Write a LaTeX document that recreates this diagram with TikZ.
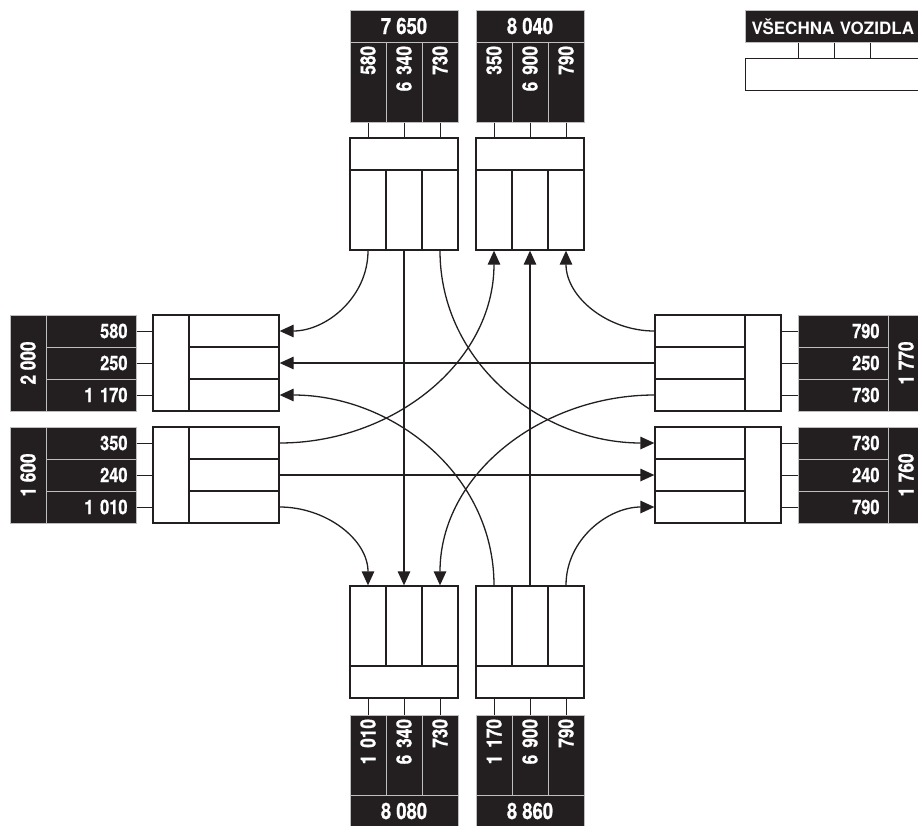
\documentclass[tikz,border=0pt]{standalone}
\usepackage{fontspec}
\newfontfamily\numfont[FakeStretch=0.82, FakeBold=0.8]{TeX Gyre Heros}
\newfontfamily\legfont{TeX Gyre Heros}
\usetikzlibrary{arrows.meta, positioning}
\definecolor{ink}{HTML}{231F20}
\definecolor{rim}{HTML}{BEBEBE}

\tikzset{
  wcell/.style={draw=ink, line width=1.3pt, fill=white, inner sep=0pt},
  wcol/.style={wcell, minimum width=36pt, minimum height=80pt},
  whead/.style={wcell, minimum width=108pt, minimum height=32pt},
  wrow/.style={wcell, minimum width=90pt, minimum height=32pt},
  wside/.style={wcell, minimum width=36pt, minimum height=96pt},
  bcell/.style={fill=ink, draw=rim, line width=1pt, text=white, inner sep=0pt,
    font=\numfont\bfseries\fontsize{21}{23}\selectfont},
  bcol/.style={bcell, rotate=90, minimum width=80pt, minimum height=36pt, text width=72pt, align=right},
  bhead/.style={bcell, minimum width=108pt, minimum height=32pt,
    font=\numfont\bfseries\fontsize{22.5}{24}\selectfont},
  brow/.style={bcell, minimum width=90pt, minimum height=32pt, text width=73pt, align=right,
    font=\numfont\bfseries\fontsize{20}{22}\selectfont},
  bside/.style={bcell, rotate=90, minimum width=96pt, minimum height=36pt},
  stub/.style={draw=ink, line width=1pt},
  flow/.style={draw=ink, line width=1.3pt, -{Triangle[length=14pt,width=12.5pt]}}
}

\begin{document}
\begin{tikzpicture}[x=1pt, y=1pt]
  \useasboundingbox (0,0) rectangle (918,-825);
  \clip (0,0) rectangle (918,-825);

  % North: inbound (left) and outbound (right)
  \node[bhead] (nInB) at (404,-26) {7 650};
  \node[whead] (nInH) at (404,-154) {};
  \foreach \i/\v in {1/580, 2/{6 340}, 3/730} {
    \node[bcol] (nInB\i) at ({332+36*\i},-82) {\v};
    \node[wcol] (nIn\i) at ({332+36*\i},-210) {};
    \draw[stub] (nInB\i.west) -- (nInB\i.west |- nInH.north);
  }
  \node[bhead] (nOutB) at (530,-26) {8 040};
  \node[whead] (nOutH) at (530,-154) {};
  \foreach \i/\v in {1/350, 2/{6 900}, 3/790} {
    \node[bcol] (nOutB\i) at ({458+36*\i},-82) {\v};
    \node[wcol] (nOut\i) at ({458+36*\i},-210) {};
    \draw[stub] (nOutB\i.west) -- (nOutB\i.west |- nOutH.north);
  }

  % South: outbound (left) and inbound (right)
  \node[bhead] (sOutB) at (404,-811) {8 080};
  \node[whead] (sOutH) at (404,-682) {};
  \foreach \i/\v in {1/{1 010}, 2/{6 340}, 3/730} {
    \node[bcol] (sOutB\i) at ({332+36*\i},-755) {\v};
    \node[wcol] (sOut\i) at ({332+36*\i},-626) {};
    \draw[stub] (sOutB\i.east) -- (sOutB\i.east |- sOutH.south);
  }
  \node[bhead] (sInB) at (530,-811) {8 860};
  \node[whead] (sInH) at (530,-682) {};
  \foreach \i/\v in {1/{1 170}, 2/{6 900}, 3/790} {
    \node[bcol] (sInB\i) at ({458+36*\i},-755) {\v};
    \node[wcol] (sIn\i) at ({458+36*\i},-626) {};
    \draw[stub] (sInB\i.east) -- (sInB\i.east |- sInH.south);
  }

  % West: outbound (top) and inbound (bottom)
  \node[bside] (wOutB) at (28,-363) {2 000};
  \node[wside] (wOutS) at (171,-363) {};
  \foreach \i/\v in {1/580, 2/250, 3/{1 170}} {
    \node[brow] (wOutB\i) at (91,{-299-32*\i}) {\v};
    \node[wrow] (wOut\i) at (234,{-299-32*\i}) {};
    \draw[stub] (wOutB\i.east) -- (wOutB\i.east -| wOutS.west);
  }
  \node[bside] (wInB) at (28,-475) {1 600};
  \node[wside] (wInS) at (171,-475) {};
  \foreach \i/\v in {1/350, 2/240, 3/{1 010}} {
    \node[brow] (wInB\i) at (91,{-411-32*\i}) {\v};
    \node[wrow] (wIn\i) at (234,{-411-32*\i}) {};
    \draw[stub] (wInB\i.east) -- (wInB\i.east -| wInS.west);
  }

  % East: inbound (top) and outbound (bottom)
  \node[bside] (eInB) at (906,-363) {1 770};
  \node[wside] (eInS) at (763,-363) {};
  \foreach \i/\v in {1/790, 2/250, 3/730} {
    \node[brow] (eInB\i) at (843,{-299-32*\i}) {\v};
    \node[wrow] (eIn\i) at (700,{-299-32*\i}) {};
    \draw[stub] (eInB\i.west) -- (eInB\i.west -| eInS.east);
  }
  \node[bside] (eOutB) at (906,-475) {1 760};
  \node[wside] (eOutS) at (763,-475) {};
  \foreach \i/\v in {1/730, 2/240, 3/790} {
    \node[brow] (eOutB\i) at (843,{-411-32*\i}) {\v};
    \node[wrow] (eOut\i) at (700,{-411-32*\i}) {};
    \draw[stub] (eOutB\i.west) -- (eOutB\i.west -| eOutS.east);
  }

  % Legend
  \node[bhead, anchor=north west, minimum width=180pt, text width=168pt, align=left, inner xsep=6pt,
    font=\legfont\bfseries\fontsize{17}{19}\selectfont] (legB) at (745,-10) {VŠECHNA VOZIDLA};
  \node[wcell, anchor=north west, minimum width=180pt, minimum height=32pt] (legW) at (745,-58) {};
  \foreach \dx in {53,89,125}
    \draw[stub] ([xshift=\dx pt]legB.south west) -- ([xshift=\dx pt]legW.north west);

  % Turning movements
  \draw[flow] (nIn1.south) to[out=-90, in=0] (wOut1.east);
  \draw[flow] (nIn2.south) -- (sOut2.north);
  \draw[flow] (nIn3.south) to[out=-90, in=180] (eOut1.west);

  \draw[flow] (eIn1.west) to[out=180, in=-90] (nOut3.south);
  \draw[flow] (eIn2.west) -- (wOut2.east);
  \draw[flow] (eIn3.west) to[out=180, in=90] (sOut3.north);

  \draw[flow] (sIn1.north) to[out=90, in=0] (wOut3.east);
  \draw[flow] (sIn2.north) -- (nOut2.south);
  \draw[flow] (sIn3.north) to[out=90, in=180] (eOut3.west);

  \draw[flow] (wIn1.east) to[out=0, in=-90] (nOut1.south);
  \draw[flow] (wIn2.east) -- (eOut2.west);
  \draw[flow] (wIn3.east) to[out=0, in=90] (sOut1.north);
\end{tikzpicture}
\end{document}
